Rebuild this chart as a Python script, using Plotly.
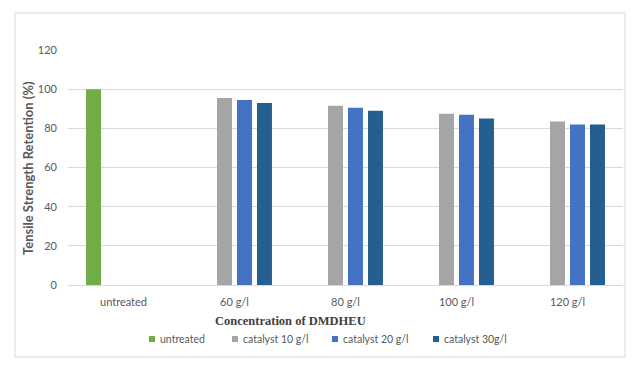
import plotly.graph_objects as go

categories = ["untreated", "60 g/l", "80 g/l", "100 g/l", "120 g/l"]
series_names = ["untreated", "catalyst 10 g/l", "catalyst 20 g/l", "catalyst 30g/l"]
untreated = [100, None, None, None, None]
catalyst_10 = [None, 95.5, 91.5, 87.5, 83.5]
catalyst_20 = [None, 94.5, 90.5, 87.0, 82.0]
catalyst_30 = [None, 93.0, 89.0, 85.0, 82.0]
colors = ["#70AD47", "#A5A5A5", "#4472C4", "#255E91"]
y_ticks = [0, 20, 40, 60, 80, 100, 120]

OFF = 8  # page body margin
W, H = 638 - OFF, 367 - OFF
L, T = 68 - OFF, 50 - OFF
pw, ph = 555, 235
R, B = W - L - pw, H - T - ph


def px(x):
    return (x - OFF - L) / pw


def py(y):
    return (T + ph - (y - OFF)) / ph


fig = go.Figure()
for name, vals, c in zip(series_names, [untreated, catalyst_10, catalyst_20, catalyst_30], colors):
    fig.add_trace(go.Bar(x=categories, y=vals, name=name, marker=dict(color=c, line=dict(width=0)),
                         showlegend=False))

# legend drawn as small squares + text (Excel-style compact legend)
legend_marker_x = [152, 235, 335, 436]
legend_y = 339
shapes = [dict(type="rect", xref="paper", yref="paper",
               x0=px(15), x1=px(625), y0=py(357), y1=py(13),
               line=dict(color="#d9d9d9", width=1), fillcolor="rgba(0,0,0,0)", layer="below")]
annotations = [
    dict(text="<b>Concentration of DMDHEU</b>", xref="paper", yref="paper",
         x=px(290), y=py(321), showarrow=False, xanchor="center", yanchor="middle",
         font=dict(family="Liberation Serif, Times New Roman, serif", size=12.5, color="#404040")),
    dict(text="<b>Tensile Strength Retention (%)</b>", xref="paper", yref="paper",
         x=px(28), y=py(168), showarrow=False, xanchor="center", yanchor="middle",
         textangle=-90, font=dict(family="Lato, Open Sans, sans-serif", size=13, color="#595959")),
]
for name, c, mx in zip(series_names, colors, legend_marker_x):
    shapes.append(dict(type="rect", xref="paper", yref="paper",
                       x0=px(mx - 3), x1=px(mx + 3), y0=py(legend_y + 3), y1=py(legend_y - 3),
                       line=dict(width=0), fillcolor=c))
    annotations.append(dict(text=name, xref="paper", yref="paper", x=px(mx + 6), y=py(legend_y),
                            showarrow=False, xanchor="left", yanchor="middle",
                            font=dict(family="Lato, Open Sans, sans-serif", size=10.5, color="#595959")))

fig.update_layout(
    width=W, height=H,
    margin=dict(l=L, r=R, t=T, b=B),
    paper_bgcolor="white", plot_bgcolor="white",
    barmode="group", bargap=0.28, bargroupgap=0.25,
    showlegend=False,
    font=dict(family="Lato, Open Sans, sans-serif", color="#595959", size=11),
    xaxis=dict(showgrid=False, showline=True, linecolor="#d9d9d9", linewidth=1,
               ticks="", tickfont=dict(size=11, color="#595959"), ticklabelstandoff=7),
    yaxis=dict(range=[0, 120], tickvals=y_ticks, showgrid=True, gridcolor="#d9d9d9", gridwidth=1,
               zeroline=False, showline=False, ticks="", ticklabelstandoff=10,
               tickfont=dict(size=11, color="#595959")),
    shapes=shapes,
    annotations=annotations,
)

fig.write_html("out.html")
